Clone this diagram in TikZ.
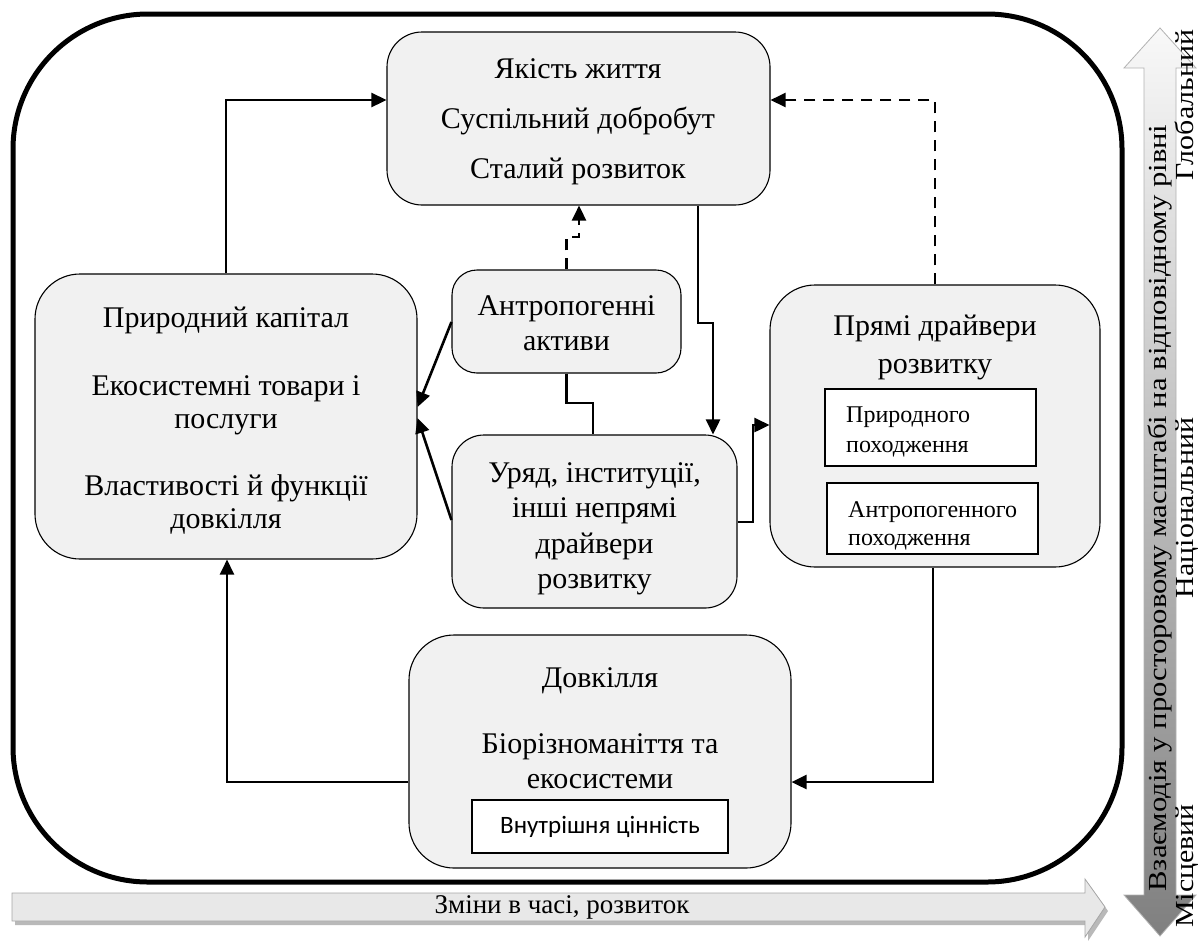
\documentclass[tikz,border=0pt]{standalone}
\usepackage{fontspec}
\usepackage{graphicx}
\setmainfont{Liberation Serif}
\newfontfamily\calib{Carlito}
\usetikzlibrary{arrows.meta,calc,shadings}
\definecolor{boxgray}{HTML}{F1F1F1}
\definecolor{arrgray}{HTML}{E8E8E8}
\begin{document}
\begin{tikzpicture}[x=1pt,y=-1pt,
  box/.style={draw=black, line width=1.1pt, fill=boxgray, rounded corners=#1, inner sep=0pt},
  box/.default=40,
  ibox/.style={draw=black, line width=1.1pt, fill=white, inner sep=0pt},
  big/.style={font=\fontsize{30}{35}\selectfont, inner sep=0pt, anchor=base},
  mid/.style={font=\fontsize{24}{30}\selectfont, inner sep=0pt, anchor=base west},
  conn/.style={line width=2.6pt, -{Triangle[length=15pt,width=14pt]}},
  plain/.style={line width=2.6pt},
  dconn/.style={line width=2.6pt, dash pattern=on 11pt off 8pt, -{Triangle[length=15pt,width=14pt]}},
  side/.style={rotate=90, inner sep=0pt, font=\fontsize{26}{26}\selectfont},
]
\useasboundingbox (0,0) rectangle (1198,940);

% outer frame
\node[draw=black, line width=5pt, rounded corners=135, minimum width=1109, minimum height=868] (frame) at (567.5,448) {};

% boxes
\node[box=35, minimum width=383, minimum height=173] (T) at (578.5,118.5) {};
\node[box=45, minimum width=382, minimum height=285] (P) at (226,416.5) {};
\node[box=25, minimum width=229, minimum height=103] (A) at (566.5,321.5) {};
\node[box=32, minimum width=285, minimum height=173] (U) at (594.5,521.5) {};
\node[box=45, minimum width=330, minimum height=282] (D) at (935,426) {};
\node[ibox, minimum width=211, minimum height=77] (D1) at (930.5,427.5) {};
\node[ibox, minimum width=211, minimum height=71] (D2) at (932.5,518.5) {};
\node[box=45, minimum width=382, minimum height=233] (E) at (600,751.5) {};
\node[ibox, minimum width=256, minimum height=53] (E1) at (600,826.5) {};

% texts
\node[big] (t1) at (578,78) {Якість життя};
\node[big] (t2) at (578,128) {Суспільний добробут};
\node[big] (t3) at (578,178) {Сталий розвиток};

\node[big] (p1) at (226,327) {Природний капітал};
\node[big] (p2) at (226,395) {Екосистемні товари і};
\node[big] (p3) at (226,428) {послуги};
\node[big] (p4) at (226,495) {Властивості й функції};
\node[big] (p5) at (226,528) {довкілля};

\node[big] (a1) at (566.5,315) {Антропогенні};
\node[big] (a2) at (566.5,350) {активи};

\node[big] (u1) at (594.5,482) {Уряд, інституції,};
\node[big] (u2) at (594.5,517) {інші непрямі};
\node[big] (u3) at (594.5,553) {драйвери};
\node[big] (u4) at (594.5,588) {розвитку};

\node[big] (d1) at (935,335) {Прямі драйвери};
\node[big] (d2) at (935,373) {розвитку};
\node[mid] (d3) at (846,422) {Природного};
\node[mid] (d4) at (846,452) {походження};
\node[mid] (d5) at (848,517) {Антропогенного};
\node[mid] (d6) at (848,545) {походження};

\node[big] (e1) at (600,687) {Довкілля};
\node[big] (e2) at (600,753) {Біорізноманіття та};
\node[big] (e3) at (600,788) {екосистеми};
\node[inner sep=0pt, font=\calib\fontsize{25}{28}\selectfont] (e4) at (E1.center) {Внутрішня цінність};

% helper coordinates
\coordinate (yTop) at (0,100);
\coordinate (jA) at (579,237);
\coordinate (jT) at (713,323);
\coordinate (jAU) at (593,403);
\coordinate (jUD) at (753,522);
\coordinate (yBot) at (0,782);

% connectors
\draw[conn] (P.north) |- (T.west |- yTop);
\draw[dconn] (D.north) |- (T.east |- yTop);
\draw[dconn] (A.north) -- (A.north |- jA) -- (jA) -- (jA |- T.south);
\draw[conn] (T.south -| 698,0) -- (698,0 |- jT) -- (jT) -- (jT |- U.north);
\draw[plain] (A.south) -- (A.south |- jAU) -- (jAU) -- (jAU |- U.north);
\draw[conn] (A.west |- 0,322) -- (P.east |- 0,407);
\draw[conn] (U.west |- 0,520) -- (P.east |- 0,418);
\draw[conn] (U.east |- jUD) -- (jUD) |- (D.west |- 0,425);
\draw[conn] (D.south -| 933,0) |- (E.east |- yBot);
\draw[conn] (E.west |- yBot) -| (P.south -| 227,0);

% bottom arrow (time)
\fill[gray!55] (15,897) -- (1088,897) -- (1088,883) -- (1108,911) -- (1088,941) -- (1088,925) -- (15,925) -- cycle;
\draw[draw=gray!70, line width=0.8pt, fill=arrgray] (12,893) -- (1085,893) -- (1085,879) -- (1105,907) -- (1085,937) -- (1085,921) -- (12,921) -- cycle;
\node[inner sep=0pt, font=\fontsize{27}{27}\selectfont] (timetxt) at (562,907) {Зміни в часі, розвиток};

% right arrow (scale)
\draw[draw=gray!60, line width=0.8pt, top color=gray!5, bottom color=gray!75!black!80] (1160,28) -- (1196,68) -- (1176,68) -- (1176,895) -- (1196,895) -- (1160,936) -- (1124,895) -- (1144,895) -- (1144,68) -- (1124,68) -- cycle;
\node[side] (sc) at (1160,508) {\scalebox{1.18}[1]{Взаємодія у просторовому масштабі на відповідному рівні}};
\node[side, anchor=base] (lg) at (1193,105) {\scalebox{1.15}[1]{Глобальний}};
\node[side, anchor=base] (ln) at (1193,508) {\scalebox{1.15}[1]{Національний}};
\node[side, anchor=base] (ll) at (1193,866) {\scalebox{1.15}[1]{Місцевий}};
\end{tikzpicture}
\end{document}
